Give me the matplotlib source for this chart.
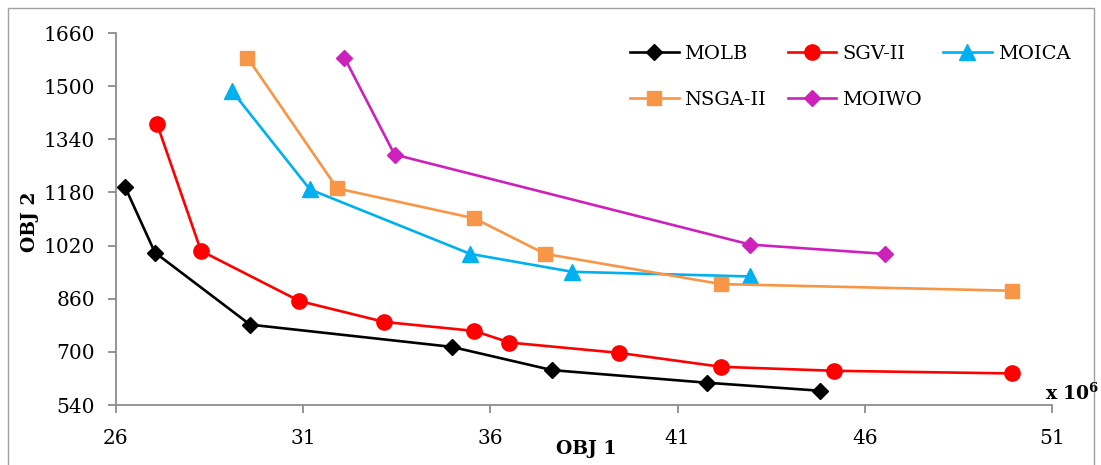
import matplotlib
matplotlib.use("Agg")
import matplotlib.pyplot as plt
from matplotlib.patches import Rectangle

plt.rcParams['font.family'] = ['DejaVu Serif']
plt.rcParams['mathtext.fontset'] = 'dejavuserif'

# OBJ 1 in units of 1e6
molb_x = [26.24, 27.04, 29.58, 34.97, 37.65, 41.79, 44.80]
molb_y = [1197, 999, 782, 715, 645, 607, 583]

sgv_x = [27.10, 28.27, 30.90, 33.17, 35.57, 36.51, 39.43, 42.16, 45.18, 49.94]
sgv_y = [1385, 1004, 853, 790, 763, 728, 697, 655, 643, 635]

moica_x = [29.10, 31.18, 35.46, 38.19, 42.94]
moica_y = [1485, 1189, 995, 941, 927]

nsga_x = [29.51, 31.91, 35.57, 37.46, 42.16, 49.94]
nsga_y = [1586, 1192, 1102, 995, 904, 884]

moiwo_x = [32.10, 33.44, 42.94, 46.53]
moiwo_y = [1586, 1294, 1023, 995]

x_ticks = [26, 31, 36, 41, 46, 51]
y_ticks = [540, 700, 860, 1020, 1180, 1340, 1500, 1660]

fig = plt.figure(figsize=(11.01, 4.65), dpi=100)
ax = fig.add_axes([116 / 1101, 1 - 405 / 465, (1052 - 116) / 1101, (405 - 33) / 465])

lw = 1.9
h_molb, = ax.plot(molb_x, molb_y, color='black', lw=lw, marker='D', ms=8, label='MOLB', clip_on=False)
h_sgv, = ax.plot(sgv_x, sgv_y, color='#FF0000', lw=lw, marker='o', ms=11, label='SGV-II', clip_on=False)
h_moica, = ax.plot(moica_x, moica_y, color='#00B0F0', lw=lw, marker='^', ms=11, label='MOICA', clip_on=False)
h_nsga, = ax.plot(nsga_x, nsga_y, color='#F79646', lw=lw, marker='s', ms=10, label='NSGA-II', clip_on=False)
h_moiwo, = ax.plot(moiwo_x, moiwo_y, color='#CC22BB', lw=lw, marker='D', ms=8, label='MOIWO', clip_on=False)

ax.set_xlim(26, 51)
ax.set_ylim(540, 1660)
ax.set_xticks(x_ticks)
ax.set_yticks(y_ticks)

for s in ['top', 'right']:
    ax.spines[s].set_visible(False)
for s in ['left', 'bottom']:
    ax.spines[s].set_color('#8C8C8C')
    ax.spines[s].set_linewidth(1.3)
ax.tick_params(axis='both', colors='#8C8C8C', length=6, width=1.3, labelsize=14.5, labelcolor='black')
ax.tick_params(axis='y', pad=9)
ax.tick_params(axis='x', pad=11)

fig.text(586 / 1101, 1 - 449 / 465, 'OBJ 1', ha='center', va='center', fontsize=13.5, fontweight='bold')
fig.text(30 / 1101, 1 - 222 / 465, 'OBJ 2', ha='center', va='center', rotation=90, fontsize=13.5, fontweight='bold')
fig.text(1045 / 1101, 1 - 400 / 465, r'x 10$^{\mathbf{6}}$', ha='left', va='baseline', fontsize=13.5, fontweight='bold')

handles = [h_molb, h_nsga, h_sgv, h_moiwo, h_moica]
fig.legend(handles=handles, labels=[h.get_label() for h in handles], ncol=3,
           loc='upper left', bbox_to_anchor=(630 / 1101, 1 - 45 / 465), frameon=False,
           fontsize=14, handlelength=2.5, handletextpad=0.3, columnspacing=1.1,
           labelspacing=1.45, borderpad=0, borderaxespad=0)

fig.add_artist(Rectangle((8 / 1101, -0.01), 1086 / 1101, 1 - 8 / 465 + 0.01, transform=fig.transFigure,
                         fill=False, edgecolor='#A0A0A0', lw=1.0))

fig.savefig('out.png', dpi=100)
